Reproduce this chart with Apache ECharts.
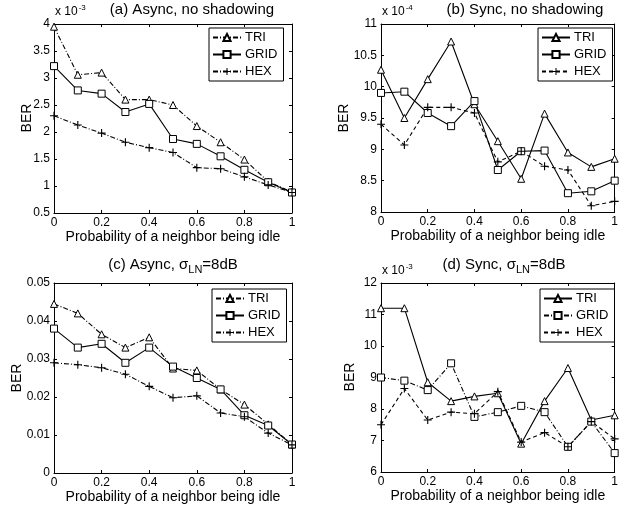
<!DOCTYPE html>
<html>
<head>
<meta charset="utf-8">
<script src="https://cdn.jsdelivr.net/npm/echarts@6/dist/echarts.min.js"></script>
<style>
html,body{margin:0;padding:0;background:#fff;}
#c{width:621px;height:511px;}
</style>
</head>
<body>
<div id="c"></div>
<script>
// Probability of a neighbor being idle
const xs = [0, 0.1, 0.2, 0.3, 0.4, 0.5, 0.6, 0.7, 0.8, 0.9, 1];

// (a) Async, no shadowing  (BER x 1e-3)
const aTRI  = [3.95, 3.06, 3.10, 2.60, 2.60, 2.50, 2.11, 1.81, 1.49, 1.08, 0.89];
const aGRID = [3.22, 2.77, 2.71, 2.37, 2.52, 1.87, 1.78, 1.55, 1.30, 1.07, 0.88];
const aHEX  = [2.30, 2.13, 1.98, 1.81, 1.71, 1.62, 1.34, 1.32, 1.17, 1.02, 0.88];

// (b) Sync, no shadowing  (BER x 1e-4)
const bTRI  = [10.27, 9.50, 10.12, 10.72, 9.72, 9.13, 8.53, 9.57, 8.95, 8.72, 8.85];
const bGRID = [9.90, 9.92, 9.58, 9.37, 9.77, 8.67, 8.97, 8.98, 8.30, 8.33, 8.50];
const bHEX  = [9.40, 9.07, 9.67, 9.67, 9.58, 8.80, 8.97, 8.73, 8.67, 8.10, 8.17];

// (c) Async, sigma_LN = 8dB  (BER)
const cTRI  = [0.0445, 0.0420, 0.0365, 0.0330, 0.0357, 0.0275, 0.0270, 0.0220, 0.0180, 0.0128, 0.0075];
const cGRID = [0.0380, 0.0330, 0.0340, 0.0290, 0.0330, 0.0280, 0.0250, 0.0220, 0.0152, 0.0125, 0.0075];
const cHEX  = [0.0290, 0.0285, 0.0277, 0.0260, 0.0228, 0.0198, 0.0203, 0.0158, 0.0148, 0.0105, 0.0074];

// (d) Sync, sigma_LN = 8dB  (BER x 1e-3)
const dTRI  = [11.2, 11.2, 8.85, 8.25, 8.40, 8.50, 6.90, 8.25, 9.30, 7.65, 7.80];
const dGRID = [9.00, 8.90, 8.60, 9.45, 7.75, 7.90, 8.10, 7.90, 6.80, 7.60, 6.60];
const dHEX  = [7.50, 8.65, 7.65, 7.90, 7.85, 8.55, 6.95, 7.25, 6.80, 7.60, 7.05];

const xTicks = {min: 0, max: 1, interval: 0.2};
const yTicksA = {min: 0.5, max: 4, interval: 0.5};
const yTicksB = {min: 8, max: 11, interval: 0.5};
const yTicksC = {min: 0, max: 0.05, interval: 0.01};
const yTicksD = {min: 6, max: 12, interval: 1};

const titles = ['(a) Async, no shadowing', '(b) Sync, no shadowing',
                '(c) Async, σ{sub|LN}=8dB', '(d) Sync, σ{sub|LN}=8dB'];
const exponents = ['-3', '-4', null, '-3'];
const xName = 'Probability of a neighbor being idle';
const yName = 'BER';

const FONT = '"Liberation Sans", Arial, Helvetica, sans-serif';
const INK = '#000';

const grids = [
  {left: 54, top: 24, width: 238, height: 189},
  {left: 381, top: 24, width: 238, height: 188},
  {left: 54, top: 283, width: 238, height: 190},
  {left: 381, top: 283, width: 238, height: 189}
];
const yTicks = [yTicksA, yTicksB, yTicksC, yTicksD];
const yNamePos = [[27, 118], [344, 118], [17, 378], [350, 377]];
const legendPos = [
  {left: 209, top: 28}, {left: 538, top: 28},
  {left: 212, top: 289}, {left: 540, top: 289}
];
const titlePos = [[192, 10], [525, 10], [173, 265], [504, 265]];

const DASHDOT = [5, 2, 1, 2];
const DASHED = [4, 3];
const lineTypes = [
  ['TRI', DASHDOT, 'GRID', 'solid', 'HEX', DASHDOT],
  ['TRI', 'solid', 'GRID', 'solid', 'HEX', DASHED],
  ['TRI', DASHDOT, 'GRID', 'solid', 'HEX', DASHDOT],
  ['TRI', 'solid', 'GRID', DASHDOT, 'HEX', DASHED]
];
const seriesData = [
  [aTRI, aGRID, aHEX], [bTRI, bGRID, bHEX], [cTRI, cGRID, cHEX], [dTRI, dGRID, dHEX]
];
const tags = ['a', 'b', 'c', 'd'];

const PLUS = 'path://M4.3,0H5.7V4.3H10V5.7H5.7V10H4.3V5.7H0V4.3H4.3Z';
const symbolFor = {TRI: 'triangle', GRID: 'rect', HEX: PLUS};
const symbolSize = {TRI: 7, GRID: 7, HEX: 8};

const xAxes = [], yAxes = [], series = [], legends = [], graphics = [];

grids.forEach((g, i) => {
  const common = {
    type: 'value',
    gridIndex: i,
    splitLine: {show: false},
    axisLine: {show: true, onZero: false, lineStyle: {color: INK, width: 1}},
    axisTick: {show: true, inside: true, length: 3, lineStyle: {color: INK}}
  };
  xAxes.push(Object.assign({}, common, xTicks, {
    position: 'bottom',
    name: xName, nameLocation: 'middle', nameGap: 16,
    nameTextStyle: {fontFamily: FONT, fontSize: 14, color: INK, verticalAlign: 'top'},
    axisLabel: {fontFamily: FONT, fontSize: 12, color: INK, margin: 4,
      formatter: v => String(+v.toFixed(1))}
  }));
  xAxes.push(Object.assign({}, common, xTicks, {position: 'top', axisLabel: {show: false}}));
  yAxes.push(Object.assign({}, common, yTicks[i], {
    position: 'left',
    axisLabel: {fontFamily: FONT, fontSize: 12, color: INK, margin: 4,
      formatter: v => String(+v.toFixed(3))}
  }));
  yAxes.push(Object.assign({}, common, yTicks[i], {position: 'right', axisLabel: {show: false}}));

  const names = [];
  for (let k = 0; k < 3; k++) {
    const base = lineTypes[i][2 * k];
    const lt = lineTypes[i][2 * k + 1];
    const nm = base + '_' + tags[i];
    names.push(nm);
    const isPlus = base === 'HEX';
    series.push({
      type: 'line',
      name: nm,
      xAxisIndex: 2 * i,
      yAxisIndex: 2 * i,
      data: xs.map((x, j) => [x, seriesData[i][k][j]]),
      symbol: symbolFor[base],
      symbolSize: symbolSize[base],
      showAllSymbol: true,
      lineStyle: {color: INK, width: 1.1, type: lt},
      itemStyle: isPlus ? {color: INK, borderWidth: 0}
                        : {color: '#fff', borderColor: INK, borderWidth: 1},
      emphasis: {disabled: true},
      animation: false,
      z: 3
    });
  }
  legends.push({
    data: names,
    orient: 'vertical',
    left: legendPos[i].left, top: legendPos[i].top,
    backgroundColor: '#fff',
    borderColor: INK, borderWidth: 1,
    padding: [3, 6, 3, 3],
    itemGap: 4,
    itemWidth: 28, itemHeight: 9,
    selectedMode: false,
    formatter: n => n.split('_')[0],
    textStyle: {fontFamily: FONT, fontSize: 13, color: INK, padding: [0, 0, 0, -1]}
  });

  graphics.push({
    type: 'text',
    x: titlePos[i][0], y: titlePos[i][1],
    style: {
      text: titles[i],
      textAlign: 'center', textVerticalAlign: 'middle',
      fontFamily: FONT, fontSize: 15, fill: INK,
      rich: {sub: {fontFamily: FONT, fontSize: 11, fill: INK, padding: [9, 0, 0, 0]}}
    }
  });
  graphics.push({
    type: 'text',
    x: yNamePos[i][0], y: yNamePos[i][1],
    rotation: Math.PI / 2,
    style: {
      text: yName,
      textAlign: 'center', textVerticalAlign: 'middle',
      fontFamily: FONT, fontSize: 14, fill: INK
    }
  });
  if (exponents[i]) {
    graphics.push({
      type: 'text',
      x: g.left + 1, y: g.top - 12,
      style: {
        text: 'x 10{sup|' + exponents[i] + '}',
        textAlign: 'left', textVerticalAlign: 'middle',
        fontFamily: FONT, fontSize: 12, fill: INK,
        rich: {sup: {fontFamily: FONT, fontSize: 8, fill: INK, padding: [0, 0, 8, 1]}}
      }
    });
  }
});

const chart = echarts.init(document.getElementById('c'), null, {renderer: 'canvas'});
chart.setOption({
  animation: false,
  backgroundColor: '#fff',
  grid: grids.map(g => Object.assign({containLabel: false}, g)),
  xAxis: xAxes,
  yAxis: yAxes,
  legend: legends,
  series: series,
  graphic: graphics
});
</script>
</body>
</html>
